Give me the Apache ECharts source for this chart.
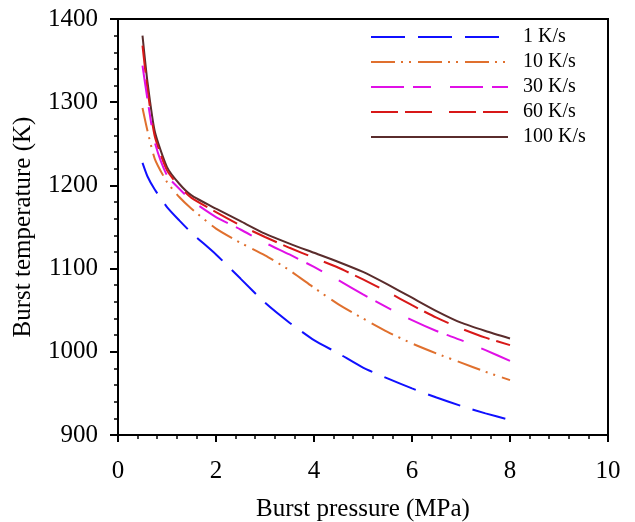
<!DOCTYPE html>
<html>
<head>
<meta charset="utf-8">
<script src="https://cdn.jsdelivr.net/npm/echarts@6/dist/echarts.min.js"></script>
<style>
html,body{margin:0;padding:0;background:#fff;}
#chart{width:635px;height:522px;}
</style>
</head>
<body>
<div id="chart"></div>
<script>
// Data (burst pressure in MPa, burst temperature in K)
const pressure = [0.5, 0.6, 0.75, 1, 1.25, 1.5, 2, 2.5, 3, 3.5, 4, 4.5, 5, 5.5, 6, 6.5, 7, 7.5, 8];
const rate1   = [1227, 1211, 1195, 1174, 1158, 1143, 1117, 1088, 1059, 1035, 1014, 998, 981, 968, 956, 945, 935, 926, 918];
const rate10  = [1293, 1266, 1232, 1204, 1186, 1172, 1148, 1131, 1116, 1098, 1077, 1057, 1040, 1024, 1010, 998, 987, 976, 966];
const rate30  = [1344, 1304, 1252, 1212, 1196, 1182, 1162, 1147, 1131, 1117, 1102, 1086, 1069, 1053, 1038, 1025, 1014, 1002, 989];
const rate60  = [1368, 1316, 1259, 1218, 1199, 1185, 1168, 1152, 1138, 1125, 1113, 1101, 1087, 1072, 1056, 1041, 1028, 1017, 1008];
const rate100 = [1380, 1325, 1265, 1222, 1202, 1188, 1172, 1157, 1142, 1130, 1119, 1108, 1096, 1081, 1065, 1049, 1035, 1025, 1016];
const seriesNames = ['1 K/s', '10 K/s', '30 K/s', '60 K/s', '100 K/s'];
const xTicks = [0, 2, 4, 6, 8, 10];
const yTicks = [900, 1000, 1100, 1200, 1300, 1400];

const FONT = "'Liberation Serif', 'Times New Roman', serif";
const values = [rate1, rate10, rate30, rate60, rate100];
const colors = ['#1010FF', '#E0702E', '#E010E6', '#D81818', '#5A2C2C'];
const dashes = [[34, 13], [24, 6, 2, 6, 2, 7], [33, 9, 18, 19], [27, 7, 27, 17], 'solid'];

const chart = echarts.init(document.getElementById('chart'), null, {renderer: 'canvas'});
const series = values.map((v, i) => ({
  name: seriesNames[i],
  type: 'line',
  data: pressure.map((p, j) => [p, v[j]]),
  symbol: 'none',
  smooth: 0.2,
  lineStyle: {color: colors[i], width: 2, type: dashes[i]},
  itemStyle: {color: colors[i]},
  z: 10 - i
}));

chart.setOption({
  animation: false,
  backgroundColor: '#fff',
  grid: {left: 118, right: 27, top: 19, bottom: 87, containLabel: false, outerBoundsMode: 'none',
    show: true, borderColor: '#000', borderWidth: 2, backgroundColor: 'transparent'},
  legend: {
    data: seriesNames,
    orient: 'vertical',
    left: 365,
    top: 22,
    itemWidth: 137,
    itemHeight: 14,
    itemGap: 5,
    itemStyle: {opacity: 0},
    textStyle: {fontFamily: FONT, fontSize: 20, color: '#000', lineHeight: 20, padding: [0, 0, 0, 10]}
  },
  xAxis: {
    type: 'value', min: 0, max: 10, interval: 2,
    name: 'Burst pressure (MPa)', nameLocation: 'middle', nameGap: 62,
    nameTextStyle: {fontFamily: FONT, fontSize: 25, color: '#000'},
    axisLine: {show: true, lineStyle: {color: '#000', width: 2}},
    axisTick: {show: true, inside: false, length: 7, lineStyle: {color: '#000', width: 2}},
    minorTick: {show: true, splitNumber: 5, length: 4, lineStyle: {color: '#000', width: 1.5}},
    splitLine: {show: false},
    axisLabel: {fontFamily: FONT, fontSize: 25, color: '#000', margin: 24,
      formatter: v => xTicks.includes(v) ? String(v) : ''}
  },
  yAxis: {
    type: 'value', min: 900, max: 1400, interval: 100,
    name: 'Burst temperature (K)', nameLocation: 'middle', nameGap: 82, nameRotate: 90,
    nameTextStyle: {fontFamily: FONT, fontSize: 25, color: '#000'},
    axisLine: {show: true, lineStyle: {color: '#000', width: 2}},
    axisTick: {show: true, inside: false, length: 8, lineStyle: {color: '#000', width: 2}},
    minorTick: {show: true, splitNumber: 5, length: 4, lineStyle: {color: '#000', width: 1.5}},
    splitLine: {show: false},
    axisLabel: {fontFamily: FONT, fontSize: 25, color: '#000', margin: 20,
      formatter: v => yTicks.includes(v) ? String(v) : ''}
  },
  series: series
});
</script>
</body>
</html>
